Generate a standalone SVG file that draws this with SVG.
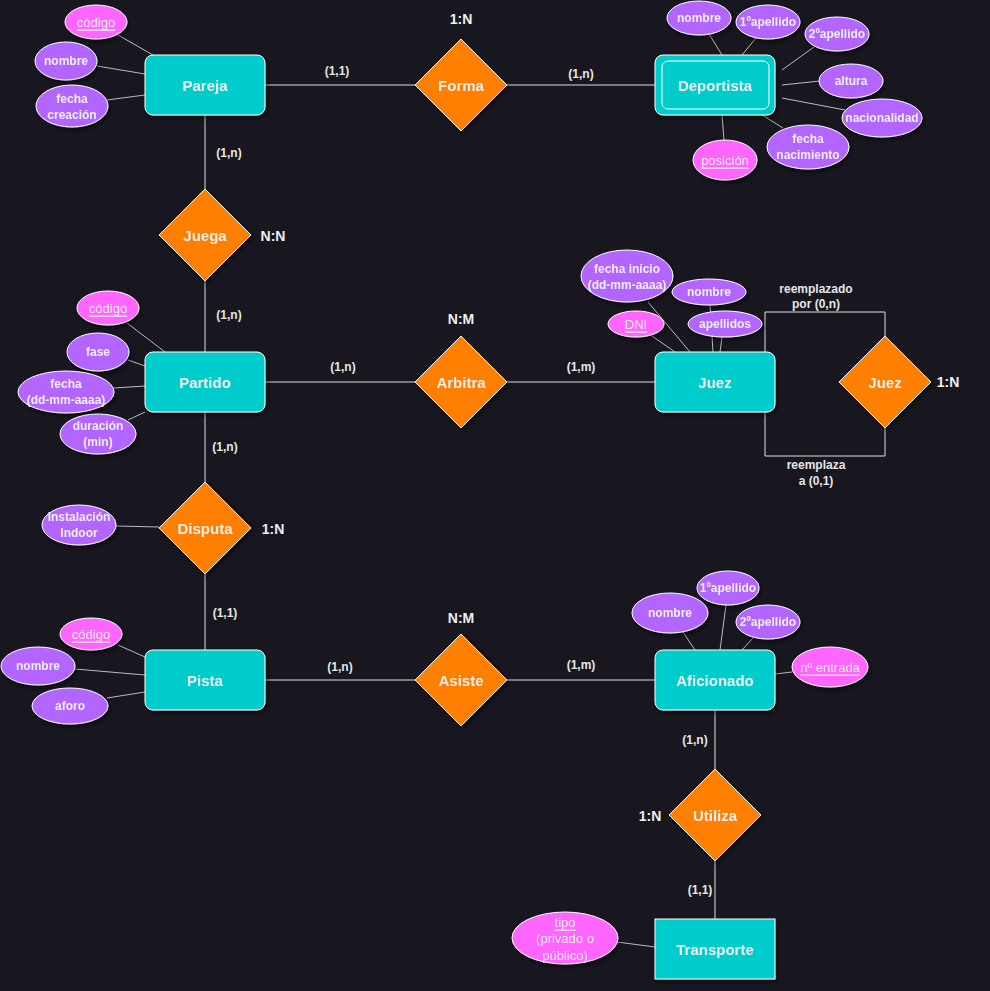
<svg xmlns="http://www.w3.org/2000/svg" width="990" height="991" viewBox="0 0 990 991">
<defs>
<style>
.ent{fill:#00CCCC;stroke:#ffffff;stroke-width:1}
.rel{fill:#FF8000;stroke:#ffffff;stroke-width:1}
.att{fill:#B266FF;stroke:#ffffff;stroke-width:1}
.key{fill:#FF66FF;stroke:#ffffff;stroke-width:1}
.ln{stroke:#dddddd;stroke-width:1;fill:none}
.ln2{stroke:#bbbbbb;stroke-width:1;fill:none}
text{font-family:"Liberation Sans",Arial,Helvetica,sans-serif;fill:#f0f0f0;text-anchor:middle;dominant-baseline:central}
.tE{font-size:15px;font-weight:bold}
.tA{font-size:12px;font-weight:bold}
.tK{font-size:13px;text-decoration:underline}
.tN{font-size:13px}
.tC{font-size:12px;font-weight:bold;fill:#e6e6e6}
.tR{font-size:14px;font-weight:bold}
</style>
<filter id="sh" x="-20%" y="-20%" width="150%" height="150%">
<feDropShadow dx="2" dy="3" stdDeviation="2" flood-color="#000000" flood-opacity="0.45"/>
</filter>
</defs>
<rect x="0" y="0" width="990" height="991" fill="#18161F"/>

<g id="connectors">
<line class="ln" x1="265" y1="85" x2="415" y2="85"/>
<line class="ln" x1="507" y1="85" x2="655" y2="85"/>
<line class="ln" x1="205" y1="115" x2="205" y2="189"/>
<line class="ln" x1="205" y1="281" x2="205" y2="352"/>
<line class="ln" x1="265" y1="382" x2="415" y2="382"/>
<line class="ln" x1="507" y1="382" x2="655" y2="382"/>
<line class="ln" x1="205" y1="412" x2="205" y2="482"/>
<line class="ln" x1="205" y1="574" x2="205" y2="650"/>
<line class="ln" x1="265" y1="680" x2="415" y2="680"/>
<line class="ln" x1="507" y1="680" x2="655" y2="680"/>
<line class="ln" x1="715" y1="710" x2="715" y2="769"/>
<line class="ln" x1="715" y1="861" x2="715" y2="919"/>
<polyline class="ln" points="765,352 765,312 885,312 885,336"/>
<polyline class="ln" points="765,412 765,456 885,456 885,428"/>
<!-- attribute links -->
<line class="ln2" x1="118" y1="35" x2="153" y2="55"/>
<line class="ln2" x1="97" y1="66" x2="145" y2="74"/>
<line class="ln2" x1="107" y1="100" x2="145" y2="95"/>
<line class="ln2" x1="709" y1="34" x2="722" y2="55"/>
<line class="ln2" x1="756" y1="38" x2="742" y2="55"/>
<line class="ln2" x1="814" y1="47" x2="782" y2="70"/>
<line class="ln2" x1="820" y1="81" x2="782" y2="85"/>
<line class="ln2" x1="845" y1="110" x2="782" y2="98"/>
<line class="ln2" x1="783" y1="128" x2="762" y2="115"/>
<line class="ln2" x1="724" y1="140" x2="722" y2="115"/>
<line class="ln2" x1="648" y1="302" x2="690" y2="352"/>
<line class="ln2" x1="710" y1="305" x2="713" y2="352"/>
<line class="ln2" x1="722" y1="337" x2="720" y2="352"/>
<line class="ln2" x1="652" y1="336" x2="675" y2="352"/>
<line class="ln2" x1="127" y1="323" x2="165" y2="352"/>
<line class="ln2" x1="128" y1="360" x2="145" y2="366"/>
<line class="ln2" x1="114" y1="388" x2="145" y2="386"/>
<line class="ln2" x1="128" y1="420" x2="145" y2="412"/>
<line class="ln2" x1="116" y1="526" x2="159" y2="527"/>
<line class="ln2" x1="118" y1="645" x2="145" y2="657"/>
<line class="ln2" x1="75" y1="669" x2="145" y2="675"/>
<line class="ln2" x1="107" y1="698" x2="145" y2="692"/>
<line class="ln2" x1="683" y1="632" x2="695" y2="650"/>
<line class="ln2" x1="726" y1="605" x2="720" y2="650"/>
<line class="ln2" x1="753" y1="638" x2="742" y2="650"/>
<line class="ln2" x1="792" y1="672" x2="775" y2="674"/>
<line class="ln2" x1="617" y1="942" x2="655" y2="947"/>
</g>

<g id="labels">
<text class="tR" x="461" y="19">1:N</text>
<text class="tC" x="337" y="71">(1,1)</text>
<text class="tC" x="581" y="74">(1,n)</text>
<text class="tC" x="229" y="153">(1,n)</text>
<text class="tR" x="273" y="236">N:N</text>
<text class="tC" x="229" y="315">(1,n)</text>
<text class="tR" x="461" y="319">N:M</text>
<text class="tC" x="343" y="367">(1,n)</text>
<text class="tC" x="581" y="367">(1,m)</text>
<text class="tC" x="225" y="447">(1,n)</text>
<text class="tR" x="273" y="529">1:N</text>
<text class="tC" x="225" y="613">(1,1)</text>
<text class="tR" x="461" y="618">N:M</text>
<text class="tC" x="340" y="667">(1,n)</text>
<text class="tC" x="581" y="665">(1,m)</text>
<text class="tC" x="695" y="740">(1,n)</text>
<text class="tR" x="650" y="816">1:N</text>
<text class="tC" x="700" y="890">(1,1)</text>
<text class="tR" x="948" y="382">1:N</text>
<text class="tC" x="816" y="289">reemplazado</text>
<text class="tC" x="816" y="304">por (0,n)</text>
<text class="tC" x="816" y="465">reemplaza</text>
<text class="tC" x="816" y="481">a (0,1)</text>
</g>

<g id="Pareja" filter="url(#sh)"><rect class="ent" x="145" y="55" width="120" height="60" rx="8"/><text class="tE" x="205" y="85">Pareja</text></g>
<g id="Forma" filter="url(#sh)"><polygon class="rel" points="461,39 507,85 461,131 415,85"/><text class="tE" x="461" y="85">Forma</text></g>
<g id="Deportista" filter="url(#sh)"><rect class="ent" x="655" y="55" width="120" height="60" rx="8"/><rect class="ent" x="662" y="61" width="107" height="48" rx="6"/><text class="tE" x="715" y="85">Deportista</text></g>
<g id="Juega" filter="url(#sh)"><polygon class="rel" points="205,189 251,235 205,281 159,235"/><text class="tE" x="205" y="235">Juega</text></g>
<g id="Partido" filter="url(#sh)"><rect class="ent" x="145" y="352" width="120" height="60" rx="8"/><text class="tE" x="205" y="382">Partido</text></g>
<g id="Arbitra" filter="url(#sh)"><polygon class="rel" points="461,336 507,382 461,428 415,382"/><text class="tE" x="461" y="382">Arbitra</text></g>
<g id="Juez" filter="url(#sh)"><rect class="ent" x="655" y="352" width="120" height="60" rx="8"/><text class="tE" x="715" y="382">Juez</text></g>
<g id="JuezRel" filter="url(#sh)"><polygon class="rel" points="885,336 931,382 885,428 839,382"/><text class="tE" x="885" y="382">Juez</text></g>
<g id="Disputa" filter="url(#sh)"><polygon class="rel" points="205,482 251,528 205,574 159,528"/><text class="tE" x="205" y="528">Disputa</text></g>
<g id="Pista" filter="url(#sh)"><rect class="ent" x="145" y="650" width="120" height="60" rx="8"/><text class="tE" x="205" y="680">Pista</text></g>
<g id="Asiste" filter="url(#sh)"><polygon class="rel" points="461,634 507,680 461,726 415,680"/><text class="tE" x="461" y="680">Asiste</text></g>
<g id="Aficionado" filter="url(#sh)"><rect class="ent" x="655" y="650" width="120" height="60" rx="8"/><text class="tE" x="715" y="680">Aficionado</text></g>
<g id="Utiliza" filter="url(#sh)"><polygon class="rel" points="715,769 761,815 715,861 669,815"/><text class="tE" x="715" y="815">Utiliza</text></g>
<g id="Transporte" filter="url(#sh)"><rect class="ent" x="655" y="919" width="120" height="60"/><text class="tE" x="715" y="949">Transporte</text></g>

<!-- Pareja attributes -->
<g id="pareja_codigo" filter="url(#sh)"><ellipse class="key" cx="96" cy="22" rx="31" ry="17"/><text class="tK" x="96" y="22">código</text></g>
<g id="pareja_nombre" filter="url(#sh)"><ellipse class="att" cx="66" cy="61" rx="31" ry="19"/><text class="tA" x="66" y="61">nombre</text></g>
<g id="pareja_fecha" filter="url(#sh)"><ellipse class="att" cx="72" cy="106" rx="36" ry="21"/><text class="tA" x="72" y="99">fecha</text><text class="tA" x="72" y="115">creación</text></g>

<!-- Deportista attributes -->
<g id="dep_nombre" filter="url(#sh)"><ellipse class="att" cx="699" cy="18" rx="32" ry="17"/><text class="tA" x="699" y="18">nombre</text></g>
<g id="dep_ap1" filter="url(#sh)"><ellipse class="att" cx="768" cy="22" rx="32" ry="17"/><text class="tA" x="768" y="22">1ºapellido</text></g>
<g id="dep_ap2" filter="url(#sh)"><ellipse class="att" cx="837" cy="34" rx="32" ry="17"/><text class="tA" x="837" y="34">2ºapellido</text></g>
<g id="dep_altura" filter="url(#sh)"><ellipse class="att" cx="851" cy="81" rx="32" ry="17"/><text class="tA" x="851" y="81">altura</text></g>
<g id="dep_nac" filter="url(#sh)"><ellipse class="att" cx="882" cy="118" rx="40" ry="19"/><text class="tA" x="882" y="118">nacionalidad</text></g>
<g id="dep_fecha" filter="url(#sh)"><ellipse class="att" cx="808" cy="147" rx="41" ry="22"/><text class="tA" x="808" y="139">fecha</text><text class="tA" x="808" y="155">nacimiento</text></g>
<g id="dep_pos" filter="url(#sh)"><ellipse class="key" cx="725" cy="160" rx="32" ry="20"/><text class="tK" x="725" y="160">posición</text></g>

<!-- Juez attributes -->
<g id="juez_fecha" filter="url(#sh)"><ellipse class="att" cx="627" cy="276" rx="46" ry="26"/><text class="tA" x="627" y="269">fecha inicio</text><text class="tA" x="627" y="285">(dd-mm-aaaa)</text></g>
<g id="juez_nombre" filter="url(#sh)"><ellipse class="att" cx="709" cy="292" rx="37" ry="13"/><text class="tA" x="709" y="292">nombre</text></g>
<g id="juez_dni" filter="url(#sh)"><ellipse class="key" cx="636" cy="324" rx="28" ry="13"/><text class="tK" x="636" y="324">DNI</text></g>
<g id="juez_ap" filter="url(#sh)"><ellipse class="att" cx="725" cy="324" rx="37" ry="13"/><text class="tA" x="725" y="324">apellidos</text></g>

<!-- Partido attributes -->
<g id="partido_codigo" filter="url(#sh)"><ellipse class="key" cx="108" cy="308" rx="31" ry="17"/><text class="tK" x="108" y="308">código</text></g>
<g id="partido_fase" filter="url(#sh)"><ellipse class="att" cx="98" cy="352" rx="31" ry="19"/><text class="tA" x="98" y="352">fase</text></g>
<g id="partido_fecha" filter="url(#sh)"><ellipse class="att" cx="66" cy="392" rx="48" ry="21"/><text class="tA" x="66" y="384">fecha</text><text class="tA" x="66" y="400">(dd-mm-aaaa)</text></g>
<g id="partido_dur" filter="url(#sh)"><ellipse class="att" cx="98" cy="434" rx="38" ry="20"/><text class="tA" x="98" y="426">duración</text><text class="tA" x="98" y="442">(min)</text></g>

<!-- Disputa attribute -->
<g id="disputa_indoor" filter="url(#sh)"><ellipse class="att" cx="79" cy="525" rx="37" ry="20"/><text class="tA" x="79" y="517">Instalación</text><text class="tA" x="79" y="533">Indoor</text></g>

<!-- Pista attributes -->
<g id="pista_codigo" filter="url(#sh)"><ellipse class="key" cx="91" cy="634" rx="31" ry="16"/><text class="tK" x="91" y="634">código</text></g>
<g id="pista_nombre" filter="url(#sh)"><ellipse class="att" cx="38" cy="666" rx="37" ry="19"/><text class="tA" x="38" y="666">nombre</text></g>
<g id="pista_aforo" filter="url(#sh)"><ellipse class="att" cx="70" cy="706" rx="38" ry="18"/><text class="tA" x="70" y="706">aforo</text></g>

<!-- Aficionado attributes -->
<g id="af_nombre" filter="url(#sh)"><ellipse class="att" cx="670" cy="613" rx="38" ry="20"/><text class="tA" x="670" y="613">nombre</text></g>
<g id="af_ap1" filter="url(#sh)"><ellipse class="att" cx="728" cy="588" rx="31" ry="17"/><text class="tA" x="728" y="588">1ºapellido</text></g>
<g id="af_ap2" filter="url(#sh)"><ellipse class="att" cx="768" cy="622" rx="32" ry="17"/><text class="tA" x="768" y="622">2ºapellido</text></g>
<g id="af_entrada" filter="url(#sh)"><ellipse class="key" cx="830" cy="667" rx="38" ry="20"/><text class="tK" x="830" y="667">nº entrada</text></g>

<!-- Transporte attribute -->
<g id="tr_tipo" filter="url(#sh)"><ellipse class="key" cx="565" cy="938" rx="53" ry="26"/><text class="tK" x="565" y="922">tipo</text><text class="tN" x="565" y="938">(privado o</text><text class="tN" x="565" y="955">público)</text></g>
</svg>
